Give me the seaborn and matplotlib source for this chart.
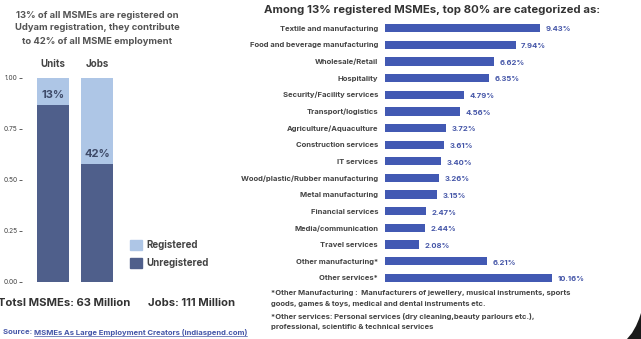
import matplotlib
matplotlib.use("Agg")
import matplotlib.pyplot as plt
import seaborn as sns
import pandas as pd
from matplotlib.patches import Patch, Polygon

# Share of MSMEs registered on Udyam, by units and by jobs
groups = ["Units", "Jobs"]
registered = [0.13, 0.42]
unregistered = [0.87, 0.58]
share_labels = ["13%", "42%"]
ytick_values = [0.00, 0.25, 0.50, 0.75, 1.00]

# Sector split among registered MSMEs (percent)
sectors = [
    "Textile and manufacturing",
    "Food and beverage manufacturing",
    "Wholesale/Retail",
    "Hospitality",
    "Security/Facility services",
    "Transport/logistics",
    "Agriculture/Aquaculture",
    "Construction services",
    "IT services",
    "Wood/plastic/Rubber manufacturing",
    "Metal manufacturing",
    "Financial services",
    "Media/communication",
    "Travel services",
    "Other manufacturing*",
    "Other services*",
]
shares = [9.43, 7.94, 6.62, 6.35, 4.79, 4.56, 3.72, 3.61, 3.40, 3.26,
          3.15, 2.47, 2.44, 2.08, 6.21, 10.16]

LIGHT = "#aec6e6"
DARK = "#4f5f8b"
BAR = "#4259b3"
VAL = "#4556a8"
TXT = "#444444"

sns.set_theme(style="white")
plt.rcParams["font.family"] = ["Inter", "DejaVu Sans"]

W, H = 641, 339
fig = plt.figure(figsize=(W / 100, H / 100), dpi=100)
fig.patch.set_facecolor("white")


def fx(px):
    return px / W


def fy(py):
    return 1 - py / H


# ---- left panel: stacked registered / unregistered bars ----
ax1 = fig.add_axes([fx(22), fy(282), fx(119 - 22), (282 - 78) / H])
df1 = pd.DataFrame({
    "group": groups,
    "total": [r + u for r, u in zip(registered, unregistered)],
    "unreg": unregistered,
})
sns.barplot(data=df1, x="group", y="total", color=LIGHT, width=0.73,
            saturation=1, linewidth=0, ax=ax1)
sns.barplot(data=df1, x="group", y="unreg", color=DARK, width=0.73,
            saturation=1, linewidth=0, ax=ax1)
ax1.set_xlim(-0.705, 1.5)
ax1.set_ylim(0, 1.0)
ax1.set_xlabel("")
ax1.set_ylabel("")
ax1.set_yticks(ytick_values)
ax1.set_yticklabels([f"{v:.2f}" for v in ytick_values])
ax1.tick_params(axis="y", left=True, length=2.5, width=0.6, color=TXT,
                labelsize=4.8, labelcolor=TXT, pad=0.8)
ax1.xaxis.tick_top()
ax1.tick_params(axis="x", top=False, bottom=False, labeltop=True,
                labelbottom=False, labelsize=7, labelcolor=TXT, pad=0.2)
for lab in ax1.get_xticklabels():
    lab.set_fontweight("bold")
for s in ax1.spines.values():
    s.set_visible(False)
for i, (u, lab) in enumerate(zip(unregistered, share_labels)):
    ax1.annotate(lab, (i, u), xytext=(0, 3.5), textcoords="offset points",
                 ha="center", va="bottom", fontsize=8, fontweight="bold",
                 color="#3e4a68")

fig.legend(handles=[Patch(color=LIGHT, label="Registered"),
                    Patch(color=DARK, label="Unregistered")],
           loc="upper left", bbox_to_anchor=(fx(121), fy(231)),
           frameon=False, fontsize=7, handlelength=1.3,
           handleheight=1.3, handletextpad=0.4, labelspacing=0.75,
           labelcolor=TXT, prop={"weight": "bold", "size": 7})

title_lines = [(15, "13% of all MSMEs are registered on"),
               (28, "Udyam registration, they contribute"),
               (41, "to 42% of all MSME employment")]
for y, t in title_lines:
    fig.text(fx(97), fy(y), t, ha="center", va="center", fontsize=6.8,
             fontweight="bold", color="#555555")

fig.text(fx(-2), fy(303), "Totsl MSMEs: 63 Million", ha="left", va="center",
         fontsize=8.1, fontweight="bold", color="#333333")
fig.text(fx(148), fy(303), "Jobs: 111 Million", ha="left", va="center",
         fontsize=8.1, fontweight="bold", color="#333333")

src = fig.text(fx(3), fy(332), "Source: ", ha="left", va="center",
               fontsize=5.5, color=VAL, fontweight="bold")
fig.canvas.draw()
bb = src.get_window_extent()
link = fig.text(bb.x1 / W, fy(332),
                "MSMEs As Large Employment Creators (indiaspend.com)",
                ha="left", va="center", fontsize=5.5, color=VAL,
                fontweight="bold")
fig.canvas.draw()
lb = link.get_window_extent()
fig.add_artist(plt.Line2D([lb.x0 / W, lb.x1 / W], [fy(336), fy(336)],
                          color=VAL, lw=0.5))

# ---- right panel: sector shares ----
ax2 = fig.add_axes([fx(385), fy(286.3), fx(204), (286.3 - 19.7) / H])
df2 = pd.DataFrame({"sector": sectors, "share": shares})
sns.barplot(data=df2, x="share", y="sector", orient="h", color=BAR,
            width=0.5, saturation=1, linewidth=0, ax=ax2)
ax2.set_xlim(0, 12.4)
ax2.set_xlabel("")
ax2.set_ylabel("")
ax2.set_xticks([])
ax2.tick_params(axis="y", left=False, length=0, pad=5, labelsize=5.5,
                labelcolor=TXT)
for lab in ax2.get_yticklabels():
    lab.set_fontweight("bold")
for s in ax2.spines.values():
    s.set_visible(False)
for i, v in enumerate(shares):
    ax2.annotate(f"{v:.2f}%", (v, i), xytext=(4, -1),
                 textcoords="offset points", ha="left", va="center",
                 fontsize=5.5, fontweight="bold", color=VAL)

fig.text(fx(432), fy(10), "Among 13% registered MSMEs, top 80% are categorized as:",
         ha="center", va="center", fontsize=8.2, fontweight="bold",
         color="#333333")

notes = [
    (293, "*Other Manufacturing :  Manufacturers of jewellery, musical instruments, sports"),
    (304, "goods, games & toys, medical and dental instruments etc."),
    (317, "*Other services: Personal services (dry cleaning,beauty parlours etc.),"),
    (327, "professional, scientific & technical services"),
]
for y, t in notes:
    fig.text(fx(271), fy(y), t, ha="left", va="center", fontsize=5.5,
             fontweight="bold", color=TXT)

# dark rounded corner at the bottom right
corner = Polygon([(fx(641), fy(339)), (fx(627), fy(339)), (fx(632), fy(333)),
                  (fx(636), fy(326)), (fx(639), fy(319)), (fx(641), fy(313))],
                 closed=True, transform=fig.transFigure, color="#1a1a1a",
                 lw=0)
fig.add_artist(corner)

fig.savefig("out.png", dpi=100)
